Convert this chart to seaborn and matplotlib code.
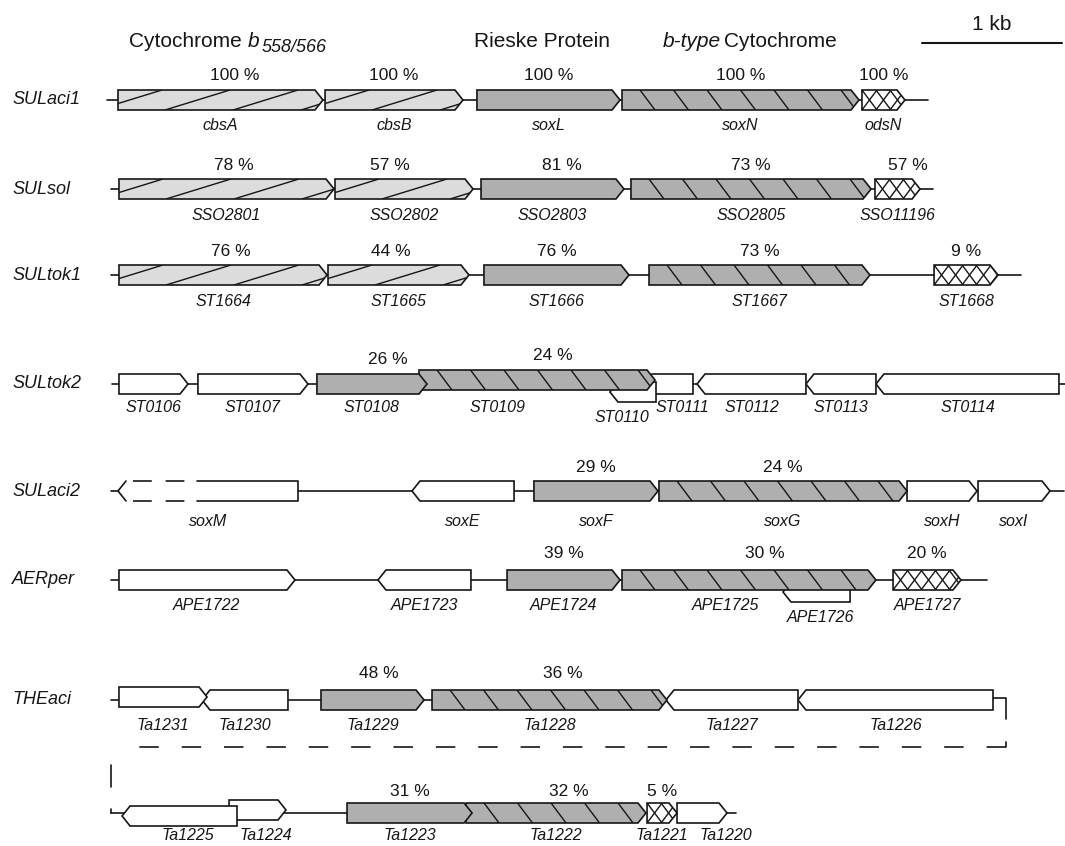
import numpy as np
import pandas as pd
import seaborn as sns
import matplotlib.pyplot as plt
from matplotlib.patches import Polygon

# Gene positions in bp (0 = first gene of the locus), strand 1 / -1,
# class: cbs / rieske / btype / ods / other, identity in % (None = no label)
SULACI1_GENES = ["cbsA", "cbsB", "soxL", "soxN", "odsN"]
SULACI1_START = [0, 1479, 2564, 3600, 5314]
SULACI1_END = [1464, 2464, 3586, 5293, 5621]
SULACI1_STRAND = [1, 1, 1, 1, 1]
SULACI1_CLASS = ["cbs", "cbs", "rieske", "btype", "ods"]
SULACI1_IDENT = [100, 100, 100, 100, 100]
SULACI1_SPAN = [-79, 5786]

SULSOL_GENES = ["SSO2801", "SSO2802", "SSO2803", "SSO2805", "SSO11196"]
SULSOL_START = [7, 1550, 2593, 3664, 5407]
SULSOL_END = [1543, 2536, 3614, 5379, 5729]
SULSOL_STRAND = [1, 1, 1, 1, 1]
SULSOL_CLASS = ["cbs", "cbs", "rieske", "btype", "ods"]
SULSOL_IDENT = [78, 57, 81, 73, 57]
SULSOL_SPAN = [-50, 5821]

SULTOK1_GENES = ["ST1664", "ST1665", "ST1666", "ST1667", "ST1668"]
SULTOK1_START = [7, 1500, 2614, 3793, 5829]
SULTOK1_END = [1493, 2507, 3650, 5371, 6286]
SULTOK1_STRAND = [1, 1, 1, 1, 1]
SULTOK1_CLASS = ["cbs", "cbs", "rieske", "btype", "ods"]
SULTOK1_IDENT = [76, 44, 76, 73, 9]
SULTOK1_SPAN = [-50, 6450]

SULTOK2_GENES = ["ST0106", "ST0107", "ST0108", "ST0109", "ST0110",
                 "ST0111", "ST0112", "ST0113", "ST0114"]
SULTOK2_START = [7, 571, 1421, 2150, 3514, 3757, 4136, 4914, 5414]
SULTOK2_END = [500, 1357, 2207, 3836, 3843, 4107, 4914, 5414, 6721]
SULTOK2_STRAND = [1, 1, 1, 1, -1, -1, -1, -1, -1]
SULTOK2_CLASS = ["other", "other", "rieske", "btype", "other",
                 "other", "other", "other", "other"]
SULTOK2_IDENT = [None, None, 26, 24, None, None, None, None, None]
SULTOK2_SPAN = [-43, 6800]

SULACI2_GENES = ["soxM", "soxE", "soxF", "soxG", "soxH", "soxI"]
SULACI2_START = [0, 2100, 2971, 3864, 5636, 6143]
SULACI2_END = [1286, 2829, 3857, 5636, 6136, 6657]
SULACI2_STRAND = [-1, -1, 1, 1, 1, 1]
SULACI2_CLASS = ["other", "other", "rieske", "btype", "other", "other"]
SULACI2_IDENT = [None, None, 29, 24, None, None]
SULACI2_SPAN = [-50, 6757]

AERPER_GENES = ["APE1722", "APE1723", "APE1724", "APE1725", "APE1726", "APE1727"]
AERPER_START = [7, 1857, 2779, 3600, 4750, 5536]
AERPER_END = [1264, 2521, 3586, 5414, 5229, 6021]
AERPER_STRAND = [1, -1, 1, 1, -1, 1]
AERPER_CLASS = ["other", "other", "rieske", "btype", "other", "ods"]
AERPER_IDENT = [None, None, 39, 30, None, 20]
AERPER_SPAN = [-50, 6207]

THEACI_GENES = ["Ta1231", "Ta1230", "Ta1229", "Ta1228", "Ta1227", "Ta1226"]
THEACI_START = [7, 600, 1450, 2243, 3914, 4857]
THEACI_END = [636, 1214, 2186, 3921, 4857, 6250]
THEACI_STRAND = [1, -1, 1, 1, -1, -1]
THEACI_CLASS = ["other", "other", "rieske", "btype", "other", "other"]
THEACI_IDENT = [None, None, 48, 36, None, None]
THEACI_SPAN = [-50, 6250]

THEACI2_GENES = ["Ta1225", "Ta1224", "Ta1223", "Ta1222", "Ta1221", "Ta1220"]
THEACI2_START = [29, 793, 1636, 2486, 3779, 3993]
THEACI2_END = [850, 1200, 2529, 3771, 3993, 4350]
THEACI2_STRAND = [-1, 1, 1, 1, 1, 1]
THEACI2_CLASS = ["other", "other", "rieske", "btype", "ods", "other"]
THEACI2_IDENT = [None, None, 31, 32, 5, None]
THEACI2_SPAN = [-50, 4414]

SCALE_BP = 1000

loci = [
    ("SULaci1", SULACI1_GENES, SULACI1_START, SULACI1_END, SULACI1_STRAND, SULACI1_CLASS, SULACI1_IDENT, SULACI1_SPAN),
    ("SULsol", SULSOL_GENES, SULSOL_START, SULSOL_END, SULSOL_STRAND, SULSOL_CLASS, SULSOL_IDENT, SULSOL_SPAN),
    ("SULtok1", SULTOK1_GENES, SULTOK1_START, SULTOK1_END, SULTOK1_STRAND, SULTOK1_CLASS, SULTOK1_IDENT, SULTOK1_SPAN),
    ("SULtok2", SULTOK2_GENES, SULTOK2_START, SULTOK2_END, SULTOK2_STRAND, SULTOK2_CLASS, SULTOK2_IDENT, SULTOK2_SPAN),
    ("SULaci2", SULACI2_GENES, SULACI2_START, SULACI2_END, SULACI2_STRAND, SULACI2_CLASS, SULACI2_IDENT, SULACI2_SPAN),
    ("AERper", AERPER_GENES, AERPER_START, AERPER_END, AERPER_STRAND, AERPER_CLASS, AERPER_IDENT, AERPER_SPAN),
    ("THEaci", THEACI_GENES, THEACI_START, THEACI_END, THEACI_STRAND, THEACI_CLASS, THEACI_IDENT, THEACI_SPAN),
    ("", THEACI2_GENES, THEACI2_START, THEACI2_END, THEACI2_STRAND, THEACI2_CLASS, THEACI2_IDENT, THEACI2_SPAN),
]

# layout (pixels)
ROW_Y = [100, 189, 275, 384, 491, 580, 700, 813]
NAME_DY = [26, 26, 26, 24, 31, 26, 26, 23]
IDENT_DY = [-24, -24, -24, -24, -24, -26, -26, -22]
BPX = 1000 / 140          # bp per pixel
ORIGIN = 118              # pixel column of bp 0
HALF = 10
HEAD = 8 * BPX
LANE = {"ST0109": -4, "ST0110": 8, "APE1726": 12, "Ta1231": -3, "Ta1225": 3, "Ta1224": -3}
NAME_NUDGE = {"ST0109": (-40, 0), "ST0110": (-11, 9), "ST0111": (14, 0), "APE1725": (-23, 0),
              "APE1726": (4, 11), "Ta1220": (24, 0), "Ta1225": (8, 0), "Ta1224": (8, 0)}
IDENT_NUDGE = {"cbsA": 14, "SSO2801": 7, "SSO2802": -14, "SSO2803": 9, "SSO11196": 10,
               "ST1664": 8, "ST1665": -8, "ST0108": 16, "ST0109": 16, "APE1725": 16,
               "Ta1229": 6, "Ta1228": 13, "Ta1222": 13}
FILL = {"cbs": "#dcdcdc", "rieske": "#afafaf", "btype": "#afafaf", "ods": "white", "other": "white"}
INK = "#161616"


def X(px):
    return (px - ORIGIN) * BPX


sns.set_theme(style="white")
plt.rcParams["font.family"] = ["Liberation Sans", "DejaVu Sans"]
plt.rcParams["lines.scale_dashes"] = False

fig = plt.figure(figsize=(10.65, 8.46), dpi=100)
ax = fig.add_axes([0, 0, 1, 1])
ax.set_xlim(X(0), X(1065))
ax.set_ylim(846, 0)
ax.axis("off")


def arrow_xy(s, e, c, strand):
    head = min(HEAD, (e - s) * 0.5)
    h = HALF
    if strand > 0:
        return [(s, c - h), (e - head, c - h), (e, c), (e - head, c + h), (s, c + h)]
    return [(s, c), (s + head, c - h), (e, c - h), (e, c + h), (s + head, c + h)]


def add_hatch(poly, s, e, c, kind, z):
    h = HALF
    segs = []
    if kind == "cbs":
        step, run, off = 68 * BPX, 65 * BPX, 47 * BPX
        for xb in np.arange(s + off - 3 * step, e + step, step):
            segs.append(((xb, xb + run), (c + h, c - h)))
    elif kind == "btype":
        step, run, off = 33.5 * BPX, 15 * BPX, 18 * BPX
        for xt in np.arange(s + off - step, e + step, step):
            segs.append(((xt, xt + run), (c - h, c + h)))
    elif kind == "ods":
        step, run = 14 * BPX, 15 * BPX
        for x0 in np.arange(s - 2 * step, e + step, step):
            segs.append(((x0, x0 + run), (c - h, c + h)))
            segs.append(((x0, x0 + run), (c + h, c - h)))
    for xs, ys in segs:
        ln, = ax.plot(xs, ys, color=INK, lw=1.0, zorder=z + 0.1, solid_capstyle="butt")
        ln.set_clip_path(poly)


for row, (label, names, starts, ends, strands, classes, idents, span) in enumerate(loci):
    yc = ROW_Y[row]
    ax.plot(span, [yc, yc], color=INK, lw=1.2, zorder=1)
    if label:
        ax.text(X(12), yc, label, fontsize=13, style="italic", color=INK, ha="left", va="center")
    n = len(names)
    for i in range(n):
        g, s, e = names[i], starts[i], ends[i]
        c = yc + LANE.get(g, 0)
        z = 10 + (n - i) * 3
        pts = arrow_xy(s, e, c, strands[i])
        if g == "soxM":
            # partially sequenced gene: dashed outline on its left part
            poly = Polygon(pts, closed=True, facecolor="white", edgecolor="none", zorder=z)
            ax.add_patch(poly)
            cut = X(197)
            ax.plot([pts[1][0], pts[0][0], pts[4][0]], [pts[1][1], pts[0][1], pts[4][1]],
                    color=INK, lw=1.2, zorder=z + 0.2)
            for yy in (c - HALF, c + HALF):
                ax.plot([X(133), cut], [yy, yy], color=INK, lw=1.2, zorder=z + 0.2,
                        linestyle=(0, (13.5, 10)))
            ax.plot([cut, e, e, cut], [c - HALF, c - HALF, c + HALF, c + HALF], color=INK, lw=1.2,
                    zorder=z + 0.2)
        else:
            poly = Polygon(pts, closed=True, facecolor=FILL[classes[i]], edgecolor="none", zorder=z)
            ax.add_patch(poly)
            add_hatch(poly, s, e, c, classes[i], z)
            ax.add_patch(Polygon(pts, closed=True, facecolor="none", edgecolor=INK, lw=1.2,
                                 joinstyle="miter", zorder=z + 0.2))
        mid = (s + e) / 2
        dx, dy = NAME_NUDGE.get(g, (0, 0))
        ax.text(mid + dx * BPX, yc + NAME_DY[row] + dy, g, fontsize=11.5, style="italic", color=INK,
                ha="center", va="center")
        if idents[i] is not None:
            ax.text(mid + IDENT_NUDGE.get(g, 0) * BPX, c + IDENT_DY[row], f"{idents[i]} %",
                    fontsize=12.5, color=INK, ha="center", va="center")

# THEaci continues on the next line
yb = ROW_Y[6]
ax.plot([THEACI_SPAN[1], X(1006), X(1006)], [yb - 2, yb - 2, yb + 19], color=INK, lw=1.2)
ax.plot([X(1006), X(1006)], [yb + 42, yb + 47], color=INK, lw=1.2)
ax.plot([X(1006), X(117)], [yb + 47, yb + 47], color=INK, lw=1.2, linestyle=(0, (14, 16.5)))
ax.plot([X(111), X(111)], [yb + 65, yb + 87], color=INK, lw=1.2)
yl = ROW_Y[7]
ax.plot([X(111), X(111)], [yl - 4, yl], color=INK, lw=1.2)

# headers
ax.text(X(129), 47, "Cytochrome", fontsize=15, color=INK, ha="left", va="baseline")
ax.text(X(248), 47, "b", fontsize=15, style="italic", color=INK, ha="left", va="baseline")
ax.text(X(262), 52, "558/566", fontsize=13, style="italic", color=INK, ha="left", va="baseline")
ax.text(X(542), 47, "Rieske Protein", fontsize=15, color=INK, ha="center", va="baseline")
ax.text(X(663), 47, "b-type", fontsize=15, style="italic", color=INK, ha="left", va="baseline")
ax.text(X(724), 47, "Cytochrome", fontsize=15, color=INK, ha="left", va="baseline")

# scale bar
bar_x0 = X(922)
ax.plot([bar_x0, bar_x0 + SCALE_BP], [43, 43], color=INK, lw=1.5)
ax.text(bar_x0 + SCALE_BP / 2, 30, "1 kb", fontsize=15, color=INK, ha="center", va="baseline")

fig.savefig("out.png", dpi=100, facecolor="white")
